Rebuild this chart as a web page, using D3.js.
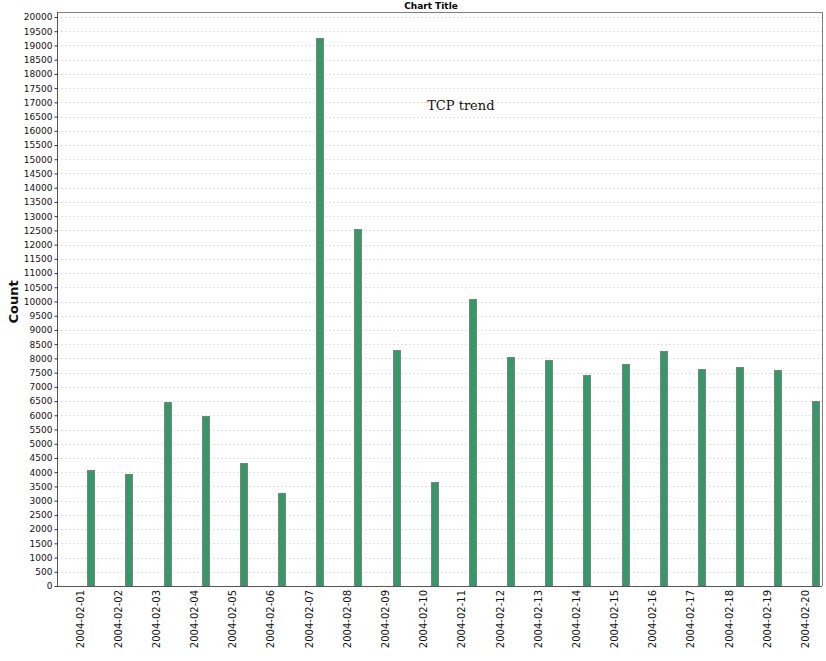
<!DOCTYPE html>
<html>
<head>
<meta charset="utf-8">
<script src="https://cdn.jsdelivr.net/npm/d3@7"></script>
<style>
body{margin:0;background:#fff;}
svg{display:block;}
</style>
</head>
<body>
<svg></svg>
<script>
var days = ["2004-02-01","2004-02-02","2004-02-03","2004-02-04","2004-02-05",
            "2004-02-06","2004-02-07","2004-02-08","2004-02-09","2004-02-10",
            "2004-02-11","2004-02-12","2004-02-13","2004-02-14","2004-02-15",
            "2004-02-16","2004-02-17","2004-02-18","2004-02-19","2004-02-20"]
var counts = [4060,3920,6480,5980,4340,3265,19250,12540,8300,3660,
              10095,8035,7930,7400,7820,8250,7630,7700,7595,6500]
var yTicks = d3.range(0,20001,500)
var chartTitle = "Chart Title"
var yLabel = "Count"
var note = {text:"TCP trend", day:"2004-02-11", value:16880}

var screen = {width:826,height:661}
var plot = {left:57,right:822,top:12,bottom:586}

var svg = d3.select("svg")
    .attr("width",screen.width)
    .attr("height",screen.height)

svg.append("rect")
    .attr("width",screen.width)
    .attr("height",screen.height)
    .attr("fill","#fff")

var xScale = d3.scaleBand()
    .domain(days)
    .range([plot.left,820.5])
var yScale = d3.scaleLinear()
    .domain([0,20000])
    .range([plot.bottom,17])

// gridlines
svg.append("g")
    .selectAll("line")
    .data(yTicks.slice(1))
    .enter()
    .append("line")
    .attr("x1",plot.left)
    .attr("x2",plot.right)
    .attr("y1",function(d){return Math.round(yScale(d))+0.5})
    .attr("y2",function(d){return Math.round(yScale(d))+0.5})
    .attr("stroke","#e0e0e0")
    .attr("stroke-dasharray","2,2")

// plot frame (top and right)
svg.append("path")
    .attr("d","M"+(plot.left)+","+(plot.top+0.5)+"H"+(plot.right+0.5)+"V"+plot.bottom)
    .attr("fill","none")
    .attr("stroke","#808080")

// bars
var bw = xScale.bandwidth()
svg.append("g")
    .selectAll("rect")
    .data(counts)
    .enter()
    .append("rect")
    .attr("x",function(d,i){return Math.round(xScale(days[i])+bw*0.79)+0.5})
    .attr("y",function(d){return Math.round(yScale(d))+0.5})
    .attr("width",7)
    .attr("height",function(d){return Math.round(yScale(0))-Math.round(yScale(d))})
    .attr("fill","#339966")
    .attr("stroke","#808080")
    .attr("stroke-width",1)

// y axis
var yAxis = d3.axisLeft(yScale)
    .tickValues(yTicks)
    .tickSize(3)
    .tickPadding(2)
    .tickFormat(d3.format("d"))
var ya = svg.append("g")
    .attr("transform","translate("+(plot.left+0.5)+",0)")
    .call(yAxis)
ya.select(".domain").attr("stroke","#555").attr("d","M0,"+plot.top+"V"+plot.bottom)
ya.selectAll(".tick line").attr("stroke","#333")
ya.selectAll("text")
    .attr("font-family","DejaVu Sans")
    .attr("font-size","9px")
    .attr("fill","#111")

// x axis line
svg.append("line")
    .attr("x1",plot.left)
    .attr("x2",plot.right)
    .attr("y1",plot.bottom+0.5)
    .attr("y2",plot.bottom+0.5)
    .attr("stroke","#555")

// x labels, rotated
svg.append("g")
    .selectAll("text")
    .data(days)
    .enter()
    .append("text")
    .attr("transform",function(d){
        return "translate("+(xScale(d)+bw/2+4)+","+(plot.bottom+4)+") rotate(-90)"})
    .attr("text-anchor","end")
    .attr("dy","0.35em")
    .attr("font-family","DejaVu Sans")
    .attr("font-size","10px")
    .attr("fill","#111")
    .text(function(d){return d})

// title
svg.append("text")
    .attr("x",431)
    .attr("y",8.5)
    .attr("text-anchor","middle")
    .attr("font-family","DejaVu Sans")
    .attr("font-weight","bold")
    .attr("font-size","9px")
    .text(chartTitle)

// y axis label
svg.append("text")
    .attr("transform","translate(18,302) rotate(-90)")
    .attr("text-anchor","middle")
    .attr("font-family","DejaVu Sans")
    .attr("font-weight","bold")
    .attr("font-size","13px")
    .attr("fill","#111")
    .text(yLabel)

// annotation
svg.append("text")
    .attr("x",xScale(note.day)+bw/2+3)
    .attr("y",yScale(note.value))
    .attr("dy","0.35em")
    .attr("text-anchor","middle")
    .attr("font-family","DejaVu Serif")
    .attr("font-size","13px")
    .attr("fill","#111")
    .text(note.text)
</script>
</body>
</html>
